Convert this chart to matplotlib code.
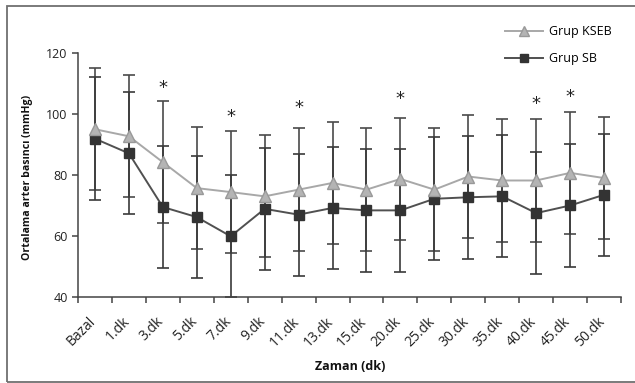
import numpy as np
import matplotlib
matplotlib.use("Agg")
import matplotlib.pyplot as plt
from matplotlib.patches import Rectangle
from matplotlib.transforms import ScaledTranslation

plt.rcParams['font.family'] = ['Open Sans', 'DejaVu Sans']

labels = ['Bazal', '1.dk', '3.dk', '5.dk', '7.dk', '9.dk', '11.dk', '13.dk',
          '15.dk', '20.dk', '25.dk', '30.dk', '35.dk', '40.dk', '45.dk', '50.dk']

# Grup KSEB: mean and SD (mmHg)
kseb_mean = [95.0, 92.7, 84.2, 75.7, 74.4, 73.0, 75.2, 77.4,
             75.2, 78.7, 75.2, 79.5, 78.2, 78.2, 80.7, 79.0]
kseb_sd = [20.0, 20.0, 20.0, 20.1, 20.1, 20.0, 20.1, 20.1,
           20.1, 20.1, 20.1, 20.1, 20.2, 20.2, 20.0, 20.1]

# Grup SB: mean and SD (mmHg)
sb_mean = [91.9, 87.1, 69.5, 66.2, 59.9, 68.9, 67.0, 69.2,
           68.4, 68.4, 72.2, 72.7, 73.0, 67.5, 70.0, 73.5]
sb_sd = [20.1, 20.0, 20.1, 20.1, 20.0, 20.0, 20.0, 20.0,
         20.1, 20.1, 20.1, 20.1, 20.0, 20.1, 20.1, 20.1]

# significance stars (category, height)
star_cats = ['3.dk', '7.dk', '11.dk', '20.dk', '40.dk', '45.dk']
star_y = [108.6, 98.9, 102.0, 104.9, 103.3, 105.7]

x = np.arange(len(labels))

fig = plt.figure(figsize=(6.35, 3.83), dpi=100)
ax = fig.add_axes([78/635, 86/383, 543/635, 244/383])

# outer frame
fig.patches.append(Rectangle((7/635, 1.5/383), 1.0, 376/383, transform=fig.transFigure,
                             fill=False, edgecolor='#707070', linewidth=1.3))

ax.errorbar(x, kseb_mean, yerr=kseb_sd, fmt='none', ecolor='#4a4a4a',
            elinewidth=1.2, capsize=4, capthick=1.2, zorder=2)
ax.errorbar(x, sb_mean, yerr=sb_sd, fmt='none', ecolor='#3a3a3a',
            elinewidth=1.2, capsize=4, capthick=1.2, zorder=2)

ax.plot(x, kseb_mean, color='#a8a8a8', linewidth=1.4, marker='^', markersize=8,
        markerfacecolor='#b4b4b4', markeredgecolor='#999999', label='Grup KSEB', zorder=4)
ax.plot(x, sb_mean, color='#505050', linewidth=1.4, marker='s', markersize=7,
        markerfacecolor='#333333', markeredgecolor='#333333', label='Grup SB', zorder=3)

for c, yv in zip(star_cats, star_y):
    ax.text(labels.index(c), yv, '*', ha='center', va='center', fontsize=13,
            color='#222222', family='DejaVu Sans')

ax.set_xlim(-0.5, len(labels) - 0.5)
ax.set_ylim(40, 120)
ax.set_yticks([40, 60, 80, 100, 120])
ax.set_xticks(np.arange(len(labels) + 1) - 0.5)
ax.set_xticklabels([])
ax.tick_params(axis='x', length=4, width=1.1, color='#444444', direction='out')
ax.tick_params(axis='y', length=4, width=1.1, color='#444444', labelsize=9, labelcolor='#222222')

# rotated category labels, anchored a little left of and below each category
lab_tr = ax.get_xaxis_transform() + ScaledTranslation(-7/100, -17/100, fig.dpi_scale_trans)
for i, lab in enumerate(labels):
    ax.text(i, 0, lab, transform=lab_tr, rotation=45, ha='right', va='top',
            rotation_mode='anchor', fontsize=10, color='#222222')

for s in ['top', 'right']:
    ax.spines[s].set_visible(False)
for s in ['left', 'bottom']:
    ax.spines[s].set_color('#444444')
    ax.spines[s].set_linewidth(1.1)

fig.text(28/635, 1 - 177/383, 'Ortalama arter basıncı (mmHg)', rotation=90,
         ha='center', va='center', fontsize=7.6, fontweight='bold', color='#111111')
fig.text(350/635, 1 - 366/383, 'Zaman (dk)', ha='center', va='center',
         fontsize=9, fontweight='bold', color='#111111')

fig.legend(loc='upper left', bbox_to_anchor=(494/635, 1 - 14/383), frameon=False,
           fontsize=9, handlelength=3.0, labelspacing=1.1, handletextpad=0.5,
           markerscale=0.9)

fig.savefig('out.png', dpi=100, facecolor='white')
